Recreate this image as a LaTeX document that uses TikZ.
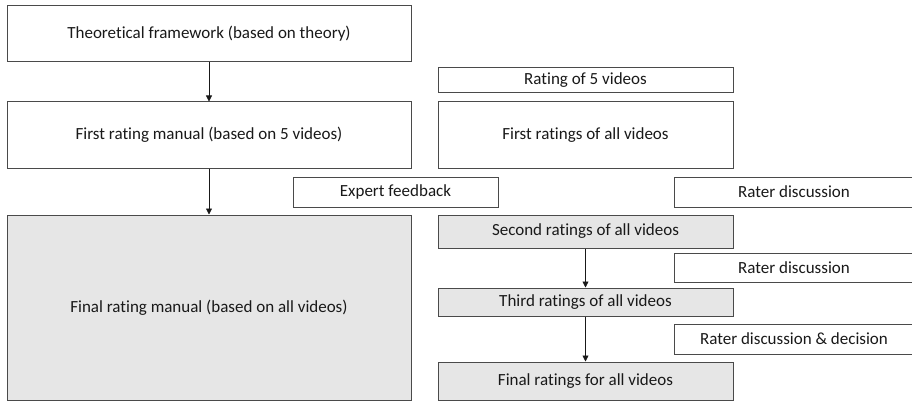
\documentclass[tikz,border=0pt]{standalone}
\usepackage{fontspec}
\setmainfont{Carlito}[Ligatures=NoCommon]
\usetikzlibrary{arrows.meta}
\definecolor{edge}{HTML}{4A4A4A}
\definecolor{shade}{HTML}{E6E6E6}
\begin{document}
\begin{tikzpicture}[x=1pt,y=-1pt,
  box/.style={draw=edge, line width=1pt, fill=white, inner sep=0pt, font=\fontsize{17}{20}\selectfont, text=black!90},
  gbox/.style={box, fill=shade},
  conn/.style={draw=black!90, line width=0.8pt, -{Triangle[width=6pt,length=6pt]}}]
\useasboundingbox (0,0) rectangle (912,401);
\node[box, minimum width=404pt, minimum height=56pt] (theo) at (209,34) {Theoretical framework (based on theory)};
\node[box, minimum width=404pt, minimum height=66pt] (frm) at (209,135) {First rating manual (based on 5 videos)};
\node[gbox, minimum width=404pt, minimum height=185pt] (fm) at (209,307.5) {Final rating manual (based on all videos)};
\node[box, minimum width=295pt, minimum height=25pt] (r5) at (585.5,80.5) {Rating of 5 videos};
\node[box, minimum width=295pt, minimum height=66pt] (fr) at (585.5,135) {First ratings of all videos};
\node[box, minimum width=205pt, minimum height=30pt] (exp) at (395.5,192) {Expert feedback};
\node[box, minimum width=240pt, minimum height=30pt] (rd1) at (794,192) {Rater discussion};
\node[gbox, minimum width=295pt, minimum height=33pt] (sec) at (585.5,231.5) {Second ratings of all videos};
\node[box, minimum width=240pt, minimum height=29pt] (rd2) at (794,267.5) {Rater discussion};
\node[gbox, minimum width=295pt, minimum height=28pt] (third) at (585.5,302) {Third ratings of all videos};
\node[box, minimum width=240pt, minimum height=30pt] (rd3) at (794,339) {Rater discussion \& decision};
\node[gbox, minimum width=295pt, minimum height=38pt] (finr) at (585.5,381) {Final ratings for all videos};
\draw[conn] (theo.south) -- (frm.north);
\draw[conn] (frm.south) -- (fm.north);
\draw[conn] (sec.south) -- (third.north);
\draw[conn] (third.south) -- (finr.north);
\end{tikzpicture}
\end{document}
